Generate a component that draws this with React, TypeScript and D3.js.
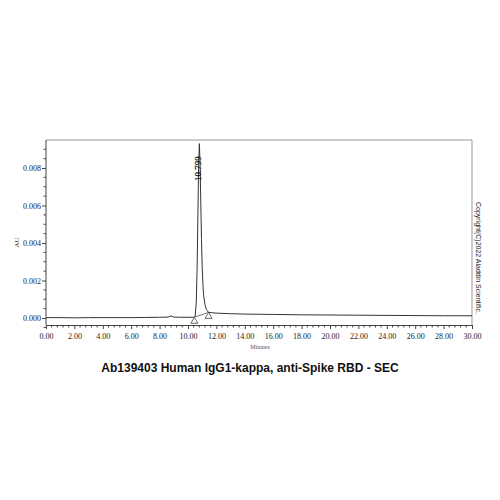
import React, { useEffect, useRef } from 'react'
import * as d3 from 'd3'

// chromatogram trace (minutes, AU)
const traceTime = [
  0, 1, 2, 3, 4, 5, 6, 7, 8, 8.6, 8.8, 9.0, 9.4, 10.0, 10.4, 10.5, 10.58, 10.64, 10.7,
  10.75, 10.8, 10.85, 10.9, 10.95, 11.0, 11.05, 11.1, 11.2, 11.3, 11.45, 11.7, 12, 13,
  14, 16, 18, 20, 22, 24, 26, 28, 30,
]
const traceAU = [
  0.00002, 0.00002, 0.00001, 0.00002, 0.00002, 0.00002, 0.00002, 0.00003, 0.00004,
  0.00005, 0.00011, 0.00005, 0.00004, 0.00004, 0.00004, 0.00008, 0.0008, 0.0026, 0.0056,
  0.0082, 0.0093, 0.0082, 0.0062, 0.0042, 0.0027, 0.0018, 0.0012, 0.0007, 0.00045,
  0.0003, 0.00028, 0.00026, 0.00023, 0.00021, 0.00019, 0.00017, 0.00016, 0.00015,
  0.00014, 0.00013, 0.00012, 0.00012,
]

// integration baseline markers
const markerTime = [10.45, 11.45]
const markerAU = [0.00004, 0.0003]

const peakTime = 10.799
const peakAU = 0.0093

const xTicks = d3.range(0, 31, 2)
const yTicks = [0, 0.002, 0.004, 0.006, 0.008]

const title = 'Ab139403 Human IgG1-kappa, anti-Spike RBD - SEC'
const copyright = 'Copyright(C)2022 Aladdin Scientific.'

export default function App() {
  const ref = useRef<SVGSVGElement | null>(null)

  useEffect(() => {
    if (!ref.current) return
    const left = 46
    const right = 472
    const top = 140
    const bottom = 325

    const x = d3.scaleLinear().domain([0, 30]).range([left, right])
    const y = d3.scaleLinear().domain([0, 0.002]).range([318, 280.5])

    const svg = d3.select(ref.current)
    svg.selectAll('*').remove()

    // frame
    svg
      .append('path')
      .attr('d', `M${left},${top}H${right}V${bottom}`)
      .attr('fill', 'none')
      .attr('stroke', '#999')
      .attr('stroke-width', 1)

    // x axis
    const xAxis = svg.append('g').attr('transform', `translate(0,${bottom})`)
    xAxis
      .call(
        d3
          .axisBottom(x)
          .tickValues(xTicks)
          .tickFormat(d3.format('.2f'))
          .tickSize(4)
          .tickSizeOuter(0),
      )
      .call((g) => g.select('.domain').attr('stroke', '#444'))
      .call((g) => g.selectAll('.tick line').attr('stroke', '#444'))
      .call((g) =>
        g
          .selectAll('.tick text')
          .attr('font-family', '"Liberation Serif", serif')
          .attr('font-size', 8)
          .attr('fill', '#222')
          .style('fill', '#222')
          .attr('dy', '0.9em'),
      )
    xAxis
      .selectAll('line.minor')
      .data(d3.range(0, 30.01, 0.4).filter((v) => Math.abs(v / 2 - Math.round(v / 2)) > 0.01))
      .join('line')
      .attr('class', 'minor')
      .attr('x1', (d) => x(d))
      .attr('x2', (d) => x(d))
      .attr('y1', 0)
      .attr('y2', 2.5)
      .attr('stroke', '#444')

    // y axis
    const yAxis = svg.append('g').attr('transform', `translate(${left},0)`)
    yAxis
      .call(
        d3
          .axisLeft(y)
          .tickValues(yTicks)
          .tickFormat(d3.format('.3f'))
          .tickSize(4)
          .tickSizeOuter(0),
      )
      .call((g) => g.select('.domain').remove())
      .call((g) => g.selectAll('.tick line').attr('stroke', '#444'))
      .call((g) =>
        g
          .selectAll('.tick text')
          .attr('font-family', '"Liberation Serif", serif')
          .attr('font-size', 8)
          .attr('fill', '#222')
          .style('fill', '#222')
          .attr('x', -5),
      )
    yAxis
      .append('line')
      .attr('x1', 0)
      .attr('x2', 0)
      .attr('y1', top)
      .attr('y2', bottom)
      .attr('stroke', '#444')
    yAxis
      .selectAll('line.minor')
      .data(d3.range(-0.0005, 0.0095, 0.0005).filter((v) => Math.abs(v / 0.002 - Math.round(v / 0.002)) > 0.01))
      .join('line')
      .attr('class', 'minor')
      .attr('x1', -2.5)
      .attr('x2', 0)
      .attr('y1', (d) => y(d))
      .attr('y2', (d) => y(d))
      .attr('stroke', '#444')

    // trace
    const line = d3
      .line<number>()
      .x((_d, i) => x(traceTime[i]))
      .y((d) => y(d))
    svg
      .append('path')
      .datum(traceAU)
      .attr('d', line)
      .attr('fill', 'none')
      .attr('stroke', '#333')
      .attr('stroke-width', 1)

    // integration baseline
    svg
      .append('path')
      .datum(markerAU)
      .attr(
        'd',
        d3
          .line<number>()
          .x((_d, i) => x(markerTime[i]))
          .y((d) => y(d)),
      )
      .attr('fill', 'none')
      .attr('stroke', '#555')
      .attr('stroke-width', 0.8)

    // triangle markers
    svg
      .selectAll('path.marker')
      .data(markerAU)
      .join('path')
      .attr('class', 'marker')
      .attr('d', (d, i) => {
        const cx = x(markerTime[i])
        const cy = y(d)
        return `M${cx},${cy}L${cx + 3.5},${cy + 6}L${cx - 3.5},${cy + 6}Z`
      })
      .attr('fill', 'white')
      .attr('stroke', '#444')
      .attr('stroke-width', 0.8)

    // peak label
    svg
      .append('text')
      .attr('transform', `translate(${x(peakTime) - 0.5},${y(peakAU) + 25}) rotate(-90)`)
      .attr('text-anchor', 'middle')
      .attr('dominant-baseline', 'middle')
      .attr('font-family', '"Liberation Serif", serif')
      .attr('font-size', 9)
      .attr('fill', '#111')
      .attr('stroke', '#111')
      .attr('stroke-width', 0.2)
      .text(d3.format('.3f')(peakTime))

    // axis titles
    svg
      .append('text')
      .attr('transform', `translate(19,${(top + bottom) / 2 + 10}) rotate(-90)`)
      .attr('text-anchor', 'middle')
      .attr('font-family', '"Liberation Serif", serif')
      .attr('font-size', 7)
      .attr('fill', '#333')
      .text('AU')
    svg
      .append('text')
      .attr('x', 260)
      .attr('y', 349)
      .attr('text-anchor', 'middle')
      .attr('font-family', '"Liberation Serif", serif')
      .attr('font-size', 6)
      .attr('fill', '#555')
      .text('Minutes')

    // copyright
    svg
      .append('text')
      .attr('transform', `translate(478,258) rotate(90)`)
      .attr('text-anchor', 'middle')
      .attr('dominant-baseline', 'middle')
      .attr('font-family', '"Liberation Sans", Arial, sans-serif')
      .attr('font-size', 7)
      .attr('fill', '#222')
      .text(copyright)

    // title
    svg
      .append('text')
      .attr('x', 250)
      .attr('y', 372)
      .attr('text-anchor', 'middle')
      .attr('font-family', '"Liberation Sans", Arial, sans-serif')
      .attr('font-weight', 'bold')
      .attr('font-size', 12)
      .attr('fill', '#111')
      .text(title)
  }, [])

  return (
    <svg
      ref={ref}
      width={500}
      height={500}
      style={{ position: 'absolute', left: 0, top: 0, background: 'white' }}
    />
  )
}
